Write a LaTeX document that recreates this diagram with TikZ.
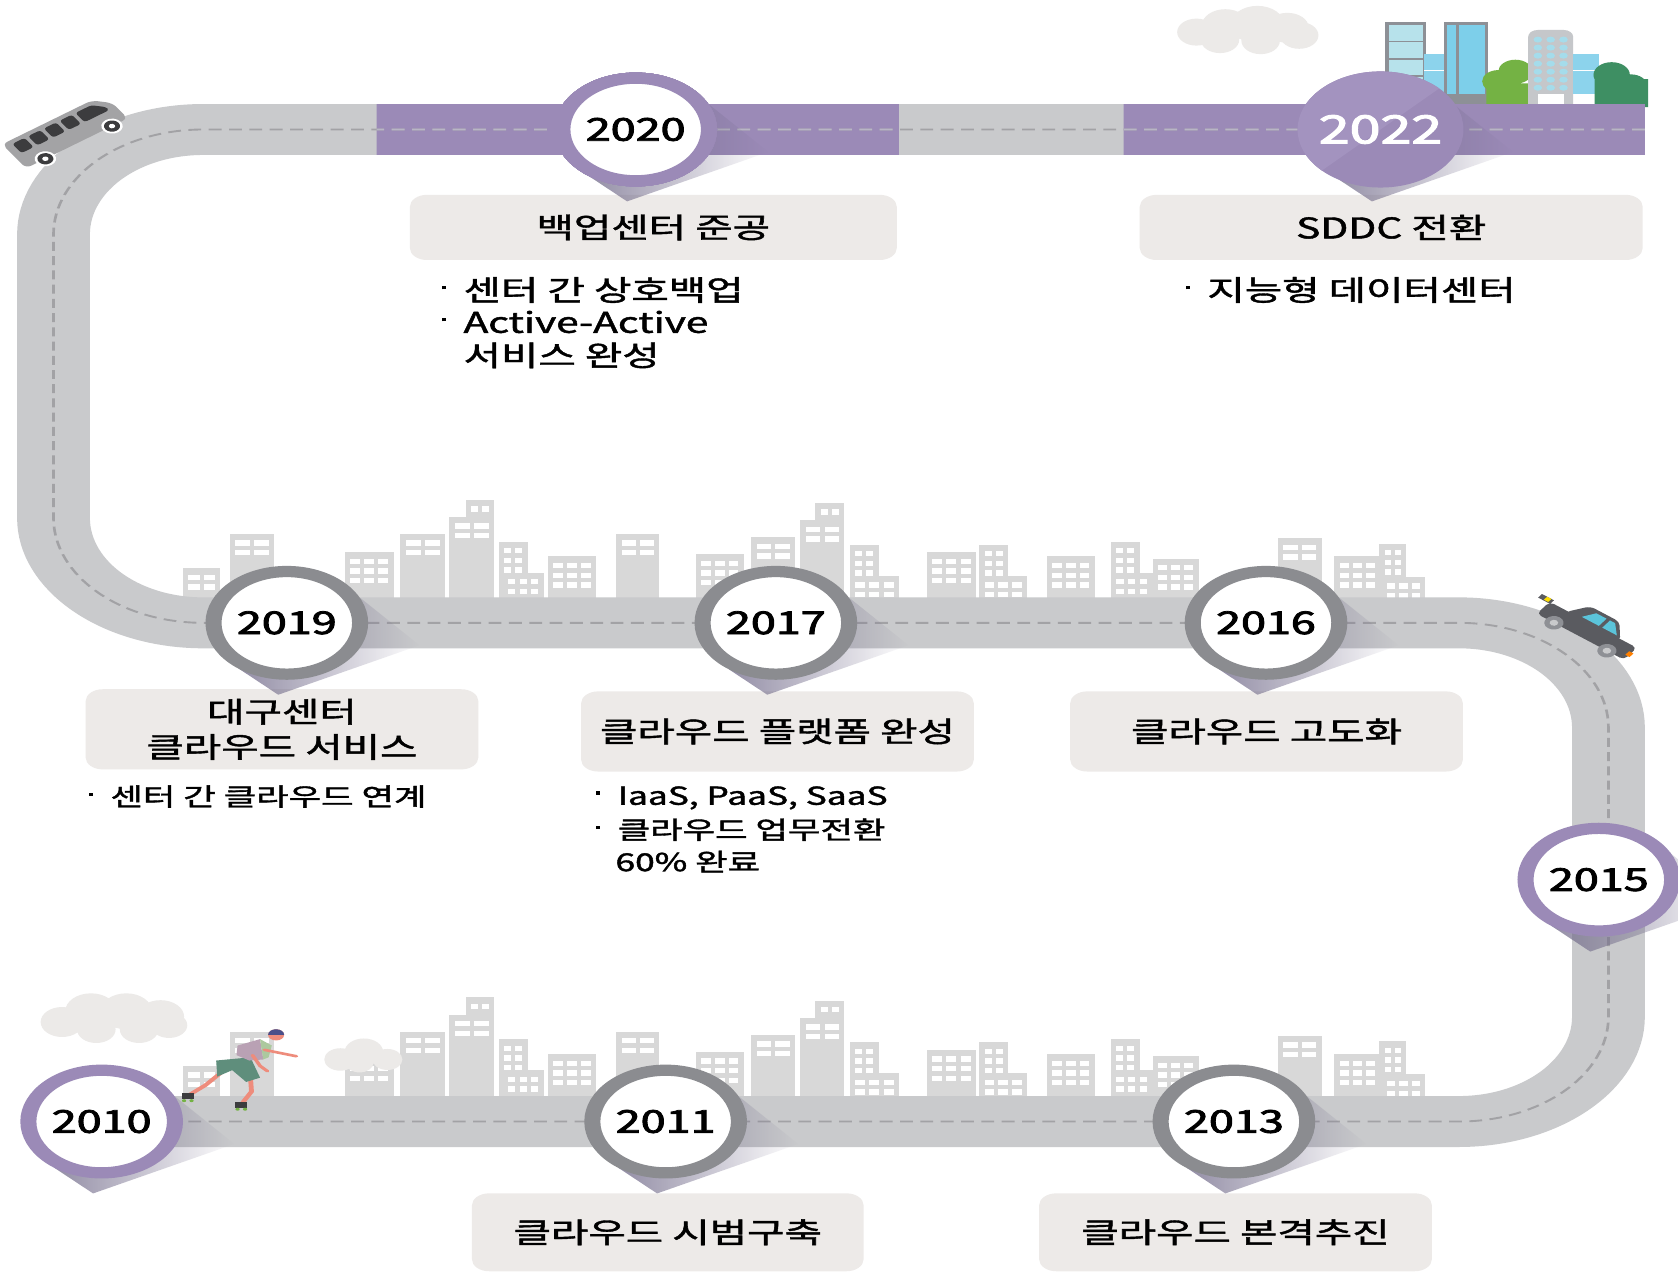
\documentclass[tikz,border=0pt]{standalone}
\usepackage{fontspec}
\setmainfont{Noto Sans CJK KR}
\newfontfamily\labelfont{Noto Sans CJK KR}[FakeBold=1.4]
\newfontfamily\yearfont{Noto Sans CJK KR}[FakeBold=2.4]
\usetikzlibrary{fadings}

\definecolor{roadc}{HTML}{C9CACC}
\definecolor{dashc}{HTML}{A2A2A5}
\definecolor{dashp}{HTML}{B9B5C6}
\definecolor{purp}{HTML}{9B8AB7}
\definecolor{purpl}{HTML}{A393BF}
\definecolor{ringg}{HTML}{8B8C90}
\definecolor{cardc}{HTML}{EDEAE8}
\definecolor{bldgc}{HTML}{D8D8D8}
\definecolor{cloudc}{HTML}{ECEAE8}
\definecolor{shadc}{HTML}{6F6888}
\definecolor{framec}{HTML}{8D9096}
\definecolor{glassa}{HTML}{B7E2EB}
\definecolor{glassb}{HTML}{7DCFEA}
\definecolor{glassc}{HTML}{8CD3EC}
\definecolor{towerc}{HTML}{C5C7CA}
\definecolor{treea}{HTML}{74B244}
\definecolor{treeb}{HTML}{3E8F63}
\definecolor{busc}{HTML}{A3A3A5}
\definecolor{darkc}{HTML}{3C3C3E}
\definecolor{carc}{HTML}{5A5B60}
\definecolor{carwin}{HTML}{5BC4DA}
\definecolor{wheelc}{HTML}{8E9095}
\definecolor{skinc}{HTML}{EE8C7C}
\definecolor{shortc}{HTML}{5F8E7C}
\definecolor{shirtm}{HTML}{B9A1B4}
\definecolor{shirtg}{HTML}{ACC99E}
\definecolor{helmc}{HTML}{4A4F8A}

\tikzfading[name=pinfade, left color=transparent!25, right color=transparent!100]

\newcommand\bul{\makebox[22pt][l]{\hspace{2pt}\rule[0.4em]{3.4pt}{4.6pt}}}

% one building with a grid of windows: x1, x2, top, cols, rows
\newcommand\bldg[5]{%
  \fill[bldgc] (#1,#3) rectangle (#2,\skybase);
  \pgfmathsetmacro\cw{(#2-#1-6)/#4}
  \foreach \i in {1,...,#4}{
    \foreach \j in {1,...,#5}{
      \fill[white] ({#1+5+(\i-1)*\cw},{#3+6+(\j-1)*9}) rectangle ++({\cw-4},5);
    }
  }
}
\newcommand\skybase{575}
\newcommand\skyline{%
  \bldg{171}{206}{531}{2}{2}
  \bldg{215}{256}{499}{2}{2}
  \bldg{322}{368}{516}{3}{3}
  \bldg{374}{416}{499}{2}{2}
  \bldg{435}{462}{467}{2}{1}
  \bldg{420}{462}{483}{2}{2}
  \bldg{466}{493}{506}{2}{4}
  \bldg{470}{508}{535}{3}{2}
  \bldg{512}{557}{520}{3}{3}
  \bldg{576}{616}{499}{2}{2}
  \bldg{650}{695}{518}{3}{3}
  \bldg{702}{743}{502}{2}{2}
  \bldg{762}{789}{470}{2}{1}
  \bldg{748}{789}{486}{2}{2}
  \bldg{794}{821}{509}{2}{4}
  \bldg{794}{840}{538}{3}{2}
  \bldg{866}{912}{516}{3}{3}
  \bldg{915}{942}{509}{2}{4}
  \bldg{915}{960}{538}{3}{2}
  \bldg{978}{1023}{520}{3}{3}
  \bldg{1038}{1065}{506}{2}{4}
  \bldg{1038}{1077}{535}{3}{2}
  \bldg{1077}{1120}{522}{3}{3}
  \bldg{1194}{1235}{503}{2}{2}
  \bldg{1247}{1290}{520}{3}{3}
  \bldg{1289}{1314}{508}{2}{4}
  \bldg{1291}{1332}{539}{3}{2}
}
\newcommand\pinshadow[1]{%
  \begin{scope}[shift={(#1)}, x=1pt, y=1pt]
    \fill[shadc, path fading=pinfade] (68,34) -- (124,-30) -- (-8,-96) -- (-44,-62) -- cycle;
  \end{scope}}

\begin{document}
\begin{tikzpicture}[x=1pt, y=-1pt,
  road/.style={draw=roadc, line width=68pt, rounded corners=140pt},
  lane/.style={draw=#1, line width=2.5pt, dash pattern=on 12pt off 7pt, rounded corners=140pt},
  year/.style={circle, fill=white, draw=#1, line width=15pt, minimum size=137pt, inner sep=0pt,
    font=\yearfont\fontsize{42}{48}\selectfont},
  card/.style={fill=cardc, rounded corners=16pt, inner sep=0pt, align=center,
    font=\labelfont\fontsize{38}{47}\selectfont},
  note/.style={anchor=base west, inner sep=0pt, font=\labelfont\fontsize{38}{44}\selectfont},
  small/.style={font=\labelfont\fontsize{33}{44}\selectfont},
  cloud/.style={fill=cloudc}]
\fill[white] (0,0) rectangle (1568,1188);
\useasboundingbox (0,0) rectangle (1568,1188);

\begin{scope}[transform canvas={yscale=0.7}, y=-1.428571pt]

% city blocks behind the two lower roads
\skyline
\begin{scope}[shift={(0,465)}]
  \skyline
\end{scope}

% clouds
\fill[cloud] (1118,30) circle[radius=18pt] (1145,24) circle[radius=22pt] (1175,23) circle[radius=25pt]
  (1203,26) circle[radius=20pt] (1214,33) circle[radius=18pt] (1140,37) circle[radius=18pt]
  (1178,38) circle[radius=18pt];
\fill[cloud] (58,955) circle[radius=20pt] (85,945) circle[radius=24pt] (118,945) circle[radius=24pt]
  (150,950) circle[radius=22pt] (158,958) circle[radius=17pt] (90,962) circle[radius=18pt]
  (130,962) circle[radius=18pt];
\fill[cloud] (318,990) circle[radius=15pt] (340,983) circle[radius=18pt] (362,990) circle[radius=14pt]
  (336,993) circle[radius=13pt];

% buildings and trees at the end of the road
\filldraw[fill=glassa, draw=framec, line width=3pt] (1296,22) rectangle (1331,100);
\draw[framec, line width=2pt] (1296,39) -- (1331,39) (1296,55) -- (1331,55) (1296,71) -- (1331,71);
\fill[glassc] (1331,50) rectangle (1352,88);
\draw[white, line width=1.5pt] (1331,66) -- (1352,66);
\filldraw[fill=glassb, draw=framec, line width=3pt] (1351,22) rectangle (1389,100);
\draw[framec, line width=2pt] (1362,22) -- (1362,88);
\fill[framec] (1351,88) rectangle (1389,100);
\fill[treea] (1400,76) circle[radius=15pt] (1416,67) circle[radius=16pt] (1389,78) rectangle (1428,100);
\fill[towerc, rounded corners=9pt] (1428,100) -- (1428,28) -- (1470,28) -- (1470,100);
\foreach \wx in {1437,1449,1461}
  \foreach \wy in {37,44.5,52,59.5,67,74.5,82}
    \fill[glassa!70!glassb] (\wx,\wy) circle[radius=4pt];
\fill[white] (1437,88) rectangle (1461,100);
\fill[glassc] (1470,50) rectangle (1494,88);
\draw[white, line width=1.5pt] (1470,66) -- (1494,66);
\fill[treeb] (1506,70) circle[radius=17pt] (1524,80) circle[radius=15pt] (1490,74) rectangle (1540,100);

% the road
\draw[road] (1537,121) -- (50,121) -- (50,582) -- (1503,582) -- (1503,1048) -- (120,1048);
\fill[purp] (352,97.2) rectangle (840,144.8) (1050,97.2) rectangle (1537,144.8);
\draw[lane=dashc] (1537,121) -- (50,121) -- (50,582) -- (1503,582) -- (1503,1048) -- (120,1048);
\begin{scope}
  \clip (352,97) rectangle (840,145) (1050,97) rectangle (1537,145);
  \draw[lane=dashp] (1537,121) -- (50,121) -- (50,582);
\end{scope}

% captions
\node[card, minimum width=455pt, minimum height=87pt] (c2020) at (610.5,212.5) {백업센터 준공};
\node[card, minimum width=470pt, minimum height=87pt] (c2022) at (1300,212.5) {SDDC 전환};
\node[card, minimum width=367pt, minimum height=107pt] (c2019) at (263.5,681.5) {대구센터\\클라우드 서비스};
\node[card, minimum width=367pt, minimum height=107pt] (c2017) at (726.5,683.5) {클라우드 플랫폼 완성};
\node[card, minimum width=367pt, minimum height=107pt] (c2016) at (1183.5,683.5) {클라우드 고도화};
\node[card, minimum width=366pt, minimum height=104pt] (c2011) at (624,1151.5) {클라우드 시범구축};
\node[card, minimum width=367pt, minimum height=104pt] (c2013) at (1154.5,1151.5) {클라우드 본격추진};

% pins
\coordinate (p2022) at (1290,121);
\foreach \p in {(594,121),(1290,121),(268,582),(725,582),(1183,582),(1494,822),(95,1048),(622,1048),(1153,1048)}
  \pinshadow{\p}
\node[year=purp] (y2020) at (594,121) {2020};
\fill[purp] (p2022) circle[radius=77.5pt];
\begin{scope}[shift={(p2022)}, x=1pt, y=1pt]
  \clip (0,0) circle (77.5);
  \fill[purpl] (-100,-100) -- (100,100) -- (-100,100) -- cycle;
\end{scope}
\node[text=white, font=\yearfont\fontsize{52}{60}\selectfont] (y2022) at (p2022) {2022};
\node[year=ringg] (y2019) at (268,582) {2019};
\node[year=ringg] (y2017) at (725,582) {2017};
\node[year=ringg] (y2016) at (1183,582) {2016};
\node[year=purp] (y2015) at (1494,822) {2015};
\node[year=purp] (y2010) at (95,1048) {2010};
\node[year=ringg] (y2011) at (622,1048) {2011};
\node[year=ringg] (y2013) at (1153,1048) {2013};

% details under the captions
\node[note] (n2020a) at (411,281) {\bul 센터 간 상호백업};
\node[note] (n2020b) at (411,311) {\bul Active-Active};
\node[note] (n2020c) at (433,342) {서비스 완성};
\node[note] (n2022a) at (1106,281) {\bul 지능형 데이터센터};
\node[note, small] (n2019a) at (81,753) {\bul 센터 간 클라우드 연계};
\node[note, small] (n2017a) at (555,752) {\bul IaaS, PaaS, SaaS};
\node[note, small] (n2017b) at (555,784) {\bul 클라우드 업무전환};
\node[note, small] (n2017c) at (575,814) {60\% 완료};

% bus
\begin{scope}[shift={(61,123)}, x=1pt, y=1pt, rotate=35]
  \fill[busc, rounded corners=6pt] (-58,-19) -- (-58,20) -- (44,20) -- (58,6) -- (58,-19) -- cycle;
  \foreach \wx in {-50,-32,-14,4}
    \fill[darkc, rounded corners=3pt] (\wx,0) rectangle ++(14,15);
  \fill[darkc, rounded corners=3pt] (22,0) -- (22,15) -- (40,15) -- (50,5) -- (50,0) -- cycle;
  \foreach \wx in {-36,40} {
    \fill[white] (\wx,-19) circle (10);
    \fill[darkc] (\wx,-19) circle (7.5);
    \fill[white] (\wx,-19) circle (3);
  }
\end{scope}

% car
\begin{scope}[shift={(1482,589)}, x=1pt, y=1pt, rotate=-37]
  \fill[carc] (-62,8) rectangle (-48,14);
  \fill[carc, rounded corners=5pt] (-50,-10) rectangle (52,10);
  \fill[carc, rounded corners=5pt] (-30,8) -- (-16,28) -- (18,28) -- (34,8) -- cycle;
  \fill[carwin] (-14,12) -- (-6,24) -- (6,24) -- (6,12) -- cycle;
  \fill[carwin] (10,12) -- (10,24) -- (16,24) -- (27,12) -- cycle;
  \fill[yellow!80!orange] (-56,9) rectangle (-51,14);
  \fill[orange] (49,-4) rectangle (54,2);
  \foreach \wx in {-30,32} {
    \fill[wheelc] (\wx,-10) circle (9);
    \fill[roadc] (\wx,-10) circle (4);
  }
\end{scope}

% skater
\draw[skinc, line width=4.5pt, line cap=round] (207,1002) -- (192,1014) -- (177,1023);
\draw[skinc, line width=4.5pt, line cap=round] (234,1006) -- (235,1020) -- (227,1030);
\fill[darkc] (170,1021) rectangle (181,1027);
\fill[darkc] (220,1030) rectangle (231,1035);
\fill[treea] (172,1028.5) circle[radius=2pt] (179,1028.5) circle[radius=2pt]
  (222,1036.5) circle[radius=2pt] (229,1036.5) circle[radius=2pt];
\fill[shortc] (202,991) -- (234,988) -- (243,1007) -- (230,1011) -- (217,1000) -- (203,1006) -- cycle;
\fill[shirtm] (222,977) -- (243,971) -- (246,990) -- (233,991) -- (221,986) -- cycle;
\fill[shirtg] (243,971) -- (254,977) -- (251,988) -- (246,990) -- cycle;
\draw[skinc, line width=3.5pt, line cap=round] (247,981) -- (277,987);
\draw[skinc, line width=3.5pt, line cap=round] (236,986) -- (243,996) -- (250,1001);
\fill[skinc] (258,967) circle[radius=7.5pt];
\fill[helmc] (258,967) ++(-7.5pt,0) arc[start angle=180, end angle=0, radius=7.5pt] -- cycle;

\end{scope}
\end{tikzpicture}
\end{document}
